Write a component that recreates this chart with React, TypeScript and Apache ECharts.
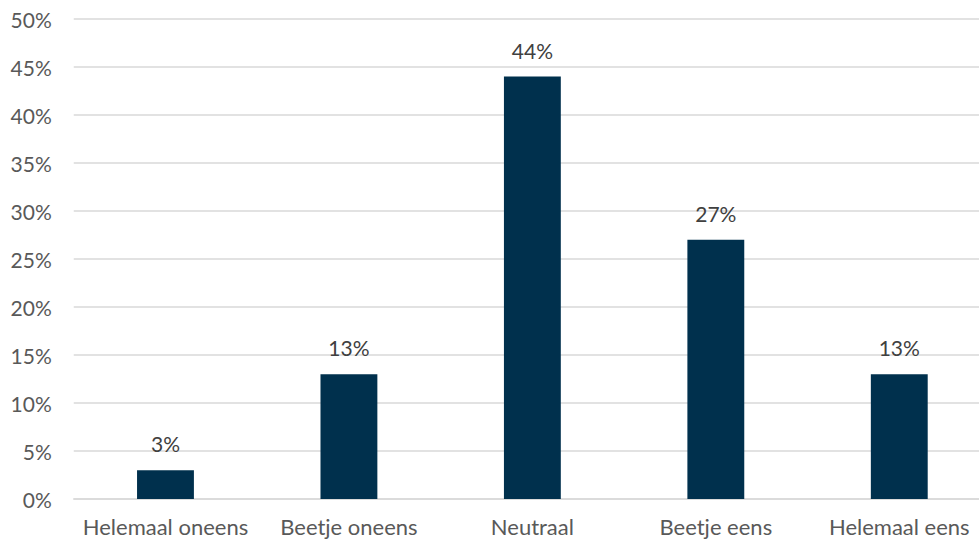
import React, { useEffect, useRef } from "react";
import * as echarts from "echarts";

const categories = ["Helemaal oneens", "Beetje oneens", "Neutraal", "Beetje eens", "Helemaal eens"];
const values = [3, 13, 44, 27, 13];
const yTicks = [0, 5, 10, 15, 20, 25, 30, 35, 40, 45, 50];

export default function App() {
  const ref = useRef<HTMLDivElement>(null);
  useEffect(() => {
    const chart = echarts.init(ref.current!, null, { renderer: "svg" });
    chart.setOption({
      animation: false,
      backgroundColor: "#ffffff",
      grid: { left: 73.75, right: 0, top: 19, bottom: 43, containLabel: false },
      xAxis: {
        type: "category",
        data: categories,
        axisLine: { show: true, lineStyle: { color: "#d9d9d9", width: 1.5 } },
        axisTick: { show: false },
        axisLabel: { color: "#595959", fontFamily: "Lato", fontSize: 22, margin: 16, interval: 0, hideOverlap: false },
      },
      yAxis: {
        type: "value",
        min: yTicks[0],
        max: yTicks[yTicks.length - 1],
        interval: 5,
        axisLine: { show: false },
        axisTick: { show: false },
        splitLine: { lineStyle: { color: "#d9d9d9", width: 1.5 } },
        axisLabel: {
          color: "#595959",
          fontFamily: "Lato",
          fontSize: 21,
          margin: 22,
          formatter: (v: number) => v + "%",
        },
      },
      series: [
        {
          type: "bar",
          data: values,
          barWidth: "31%",
          itemStyle: { color: "#00304d" },
          label: {
            show: true,
            position: "top",
            distance: 16,
            color: "#404040",
            fontFamily: "Lato",
            fontSize: 21,
            formatter: (p: any) => p.value + "%",
          },
        },
      ],
    });
    return () => chart.dispose();
  }, []);
  return (
    <div style={{ position: "fixed", left: 0, top: 0, width: 979, height: 542, overflow: "hidden", background: "#fff" }}>
      <div ref={ref} style={{ width: 991, height: 542 }} />
    </div>
  );
}
